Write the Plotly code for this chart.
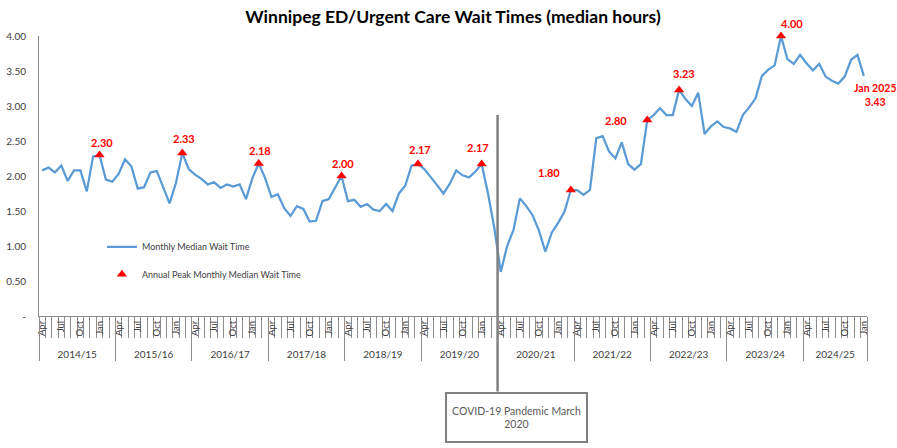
import plotly.graph_objects as go

fiscal_years = ["2014/15", "2015/16", "2016/17", "2017/18", "2018/19", "2019/20",
                "2020/21", "2021/22", "2022/23", "2023/24", "2024/25"]
month_names = ["Apr", "May", "Jun", "Jul", "Aug", "Sep", "Oct", "Nov", "Dec", "Jan", "Feb", "Mar"]
shown_months = ["Apr", "Jul", "Oct", "Jan"]

wait_times = [
    2.08, 2.12, 2.05, 2.15, 1.93, 2.08, 2.08, 1.78, 2.28, 2.30, 1.95, 1.92,
    2.03, 2.24, 2.14, 1.82, 1.84, 2.05, 2.07, 1.85, 1.61, 1.90, 2.33, 2.10,
    2.02, 1.96, 1.88, 1.91, 1.83, 1.88, 1.85, 1.88, 1.67, 1.97, 2.18, 1.97,
    1.70, 1.74, 1.54, 1.43, 1.57, 1.53, 1.35, 1.36, 1.64, 1.67, 1.84, 2.00,
    1.64, 1.66, 1.56, 1.60, 1.52, 1.50, 1.60, 1.50, 1.75, 1.86, 2.15, 2.17,
    2.10, 1.99, 1.87, 1.75, 1.89, 2.08, 2.01, 1.98, 2.06, 2.17, 1.75, 1.25,
    0.63, 1.00, 1.23, 1.68, 1.57, 1.44, 1.22, 0.92, 1.19, 1.33, 1.49, 1.80,
    1.80, 1.73, 1.80, 2.54, 2.57, 2.35, 2.25, 2.48, 2.17, 2.09, 2.17, 2.80,
    2.87, 2.97, 2.87, 2.87, 3.23, 3.10, 3.00, 3.19, 2.60, 2.71, 2.78, 2.70,
    2.68, 2.63, 2.87, 2.98, 3.11, 3.43, 3.52, 3.58, 4.00, 3.67, 3.60, 3.73,
    3.61, 3.51, 3.60, 3.42, 3.36, 3.32, 3.42, 3.66, 3.73, 3.43,
]

y_tick_vals = [0, 0.5, 1.0, 1.5, 2.0, 2.5, 3.0, 3.5, 4.0]
y_tick_text = ["-", "0.50", "1.00", "1.50", "2.00", "2.50", "3.00", "3.50", "4.00"]

# pixel offsets of each annual-peak label (dx, dy)
peak_label_offsets = [(2, 13), (1.5, 14), (1.6, 13), (1.6, 13), (2, 14.5), (-4, 17),
                      (-22, 18), (-31, 0), (5, 16.5), (11, 12.5)]

cats = [(fy, m) for fy in fiscal_years for m in month_names][:len(wait_times)]
xs = list(range(len(cats)))

# annual peaks (complete fiscal years only)
peak_x, peak_y = [], []
for fy in fiscal_years[:-1]:
    idx = [i for i, c in enumerate(cats) if c[0] == fy]
    best = max(idx, key=lambda i: wait_times[i])
    peak_x.append(best)
    peak_y.append(wait_times[best])

month_tick_vals = [i for i, c in enumerate(cats) if c[1] in shown_months]
month_tick_text = [cats[i][1] for i in month_tick_vals]
boundaries = [i - 0.5 for i in range(len(cats) + 1)]
year_bounds = [-0.5] + [i + 0.5 for i, c in enumerate(cats) if c[1] == "Mar"] + [len(cats) - 0.5]
year_bounds = sorted(set(year_bounds))
year_centers = []
for fy in fiscal_years:
    idx = [i for i, c in enumerate(cats) if c[0] == fy]
    year_centers.append(sum(idx) / len(idx))
covid_x = cats.index(("2020/21", "Apr")) - 0.5
xr = [-0.5, len(cats) - 0.5]

FONT = "Lato, 'Open Sans', sans-serif"
BLUE = "#5B9BD5"
GRAY = "#8C8C8C"

fig = go.Figure()
fig.add_trace(go.Scatter(
    x=xs, y=wait_times, mode="lines", name="Monthly Median Wait Time",
    line=dict(color=BLUE, width=2.25), legendgroup="a", cliponaxis=False))
fig.add_trace(go.Scatter(
    x=peak_x, y=peak_y, mode="markers", name="Annual Peak Monthly Median Wait Time",
    marker=dict(symbol="triangle-up", color="#FF0000", size=9), legendgroup="b",
    cliponaxis=False))

annotations = []
for (px, py), (dx, dy) in zip(zip(peak_x, peak_y), peak_label_offsets):
    annotations.append(dict(x=px, y=py, xref="x", yref="y", text=f"<b>{py:.2f}</b>",
                            showarrow=False, xshift=dx, yshift=dy,
                            font=dict(family=FONT, size=11, color="#FF0000")))
last = len(wait_times) - 1
annotations.append(dict(x=last, y=wait_times[last], xref="x", yref="y",
                        text=f"<b>Jan 2025<br>{wait_times[last]:.2f}</b>", showarrow=False,
                        xshift=11, yshift=-19.5,
                        font=dict(family=FONT, size=10.5, color="#FF0000")))
annotations.append(dict(x=covid_x, y=-0.27, xref="x", yref="paper", yanchor="top",
                        xanchor="center", xshift=18.5,
                        text="COVID-19 Pandemic March<br>2020", showarrow=False,
                        width=139, height=47, bordercolor="#808080", borderwidth=2,
                        borderpad=0, bgcolor="white",
                        font=dict(family=FONT, size=10.5, color="#595959")))

fig.update_layout(
    width=897, height=448,
    margin=dict(l=39, r=30, t=36, b=132, autoexpand=False),
    paper_bgcolor="white", plot_bgcolor="white",
    title=dict(text="<b>Winnipeg ED/Urgent Care Wait Times (median hours)</b>",
               x=0.5, xanchor="center", xref="paper", y=0.962, yanchor="middle",
               font=dict(family=FONT, size=17.5, color="black")),
    font=dict(family=FONT, size=10, color="#404040"),
    showlegend=True,
    legend=dict(x=0.076, y=0.299, xanchor="left", yanchor="top",
                font=dict(family=FONT, size=9, color="#404040"),
                tracegroupgap=8.5, bgcolor="rgba(0,0,0,0)", itemwidth=30),
    xaxis=dict(range=xr, tickmode="array", tickvals=boundaries, showticklabels=False,
               ticks="outside", ticklen=21, tickcolor=GRAY, tickwidth=1, automargin=False,
               showline=True, linecolor=GRAY, linewidth=1, showgrid=False, zeroline=False),
    xaxis2=dict(range=xr, overlaying="x", anchor="y", side="bottom", tickmode="array",
                tickvals=month_tick_vals, ticktext=month_tick_text, tickangle=-90,
                ticks="", showline=False, showgrid=False, zeroline=False, automargin=False,
                ticklabelstandoff=2, tickfont=dict(family=FONT, size=9.5, color="#404040")),
    xaxis3=dict(range=xr, overlaying="x", anchor="y", side="bottom", tickmode="array",
                tickvals=year_bounds, showticklabels=False, ticks="outside", ticklen=44,
                automargin=False,
                tickcolor=GRAY, tickwidth=1, showline=False, showgrid=False, zeroline=False),
    xaxis4=dict(range=xr, overlaying="x", anchor="y", side="bottom", tickmode="array",
                tickvals=year_centers, ticktext=fiscal_years, ticks="", automargin=False,
                ticklabelstandoff=31, showline=False, showgrid=False, zeroline=False,
                tickfont=dict(family=FONT, size=10, color="#404040")),
    yaxis=dict(range=[0, 4], tickmode="array", tickvals=y_tick_vals, ticktext=y_tick_text,
               showline=True, linecolor=GRAY, linewidth=1, showgrid=False, zeroline=False,
               ticks="", ticklabelstandoff=10, automargin=False,
               tickfont=dict(family=FONT, size=10, color="#404040")),
    annotations=annotations,
    shapes=[dict(type="line", xref="x", yref="paper", x0=covid_x, x1=covid_x,
                 y0=-0.27, y1=0.718, line=dict(color="#808080", width=2.5), layer="above")],
)
# invisible traces to instantiate overlay axes
for ax in ["x2", "x3", "x4"]:
    fig.add_trace(go.Scatter(x=[xr[0]], y=[None], xaxis=ax, yaxis="y", showlegend=False,
                             hoverinfo="skip", mode="markers", marker=dict(opacity=0)))

fig.write_html("out.html", config={"displayModeBar": False},
               post_script="document.body.style.margin='0';document.body.style.padding='0';")
